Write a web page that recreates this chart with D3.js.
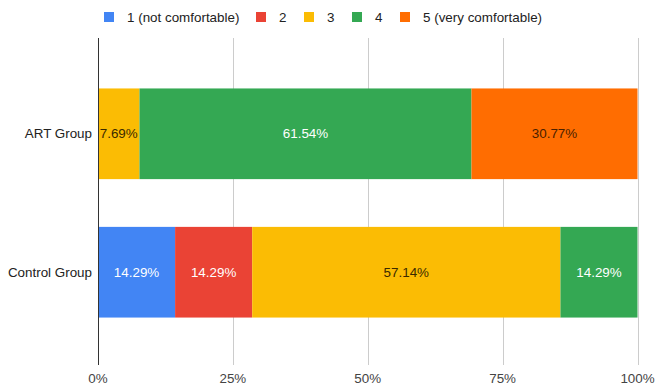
<!DOCTYPE html>
<html>
<head>
<meta charset="utf-8">
<script src="https://cdn.jsdelivr.net/npm/d3@7"></script>
<style>
  html, body { margin: 0; padding: 0; background: #fff; }
  svg { display: block; font-family: Arial, "Liberation Sans", sans-serif; }
</style>
</head>
<body>
<svg id="chart" width="655" height="387"></svg>
<script>
// Comfort ratings per group, as percentage shares
const groups = ["ART Group", "Control Group"];
const ratings = ["1 (not comfortable)", "2", "3", "4", "5 (very comfortable)"];
const colors = ["#4285F4", "#EA4335", "#FBBC04", "#34A853", "#FF6D01"];
const artShares = [0, 0, 7.69, 61.54, 30.77];
const controlShares = [14.29, 14.29, 57.14, 14.29, 0];
const tickValues = [0, 25, 50, 75, 100];
// label text colour on each fill
const labelColors = ["#ffffff", "#ffffff", "#3a2a00", "#ffffff", "#4a2000"];

const rows = [artShares, controlShares];

const svg = d3.select("#chart");
const FS = 13.4;

const x = d3.scaleLinear().domain([0, 100]).range([98, 637.5]);
const y = d3.scaleBand().domain(groups).range([40, 366]).paddingInner(0.345).paddingOuter(0.35);

// gridlines
svg.append("g")
  .selectAll("line")
  .data(tickValues.slice(1))
  .join("line")
  .attr("x1", d => Math.round(x(d)) + 0.5)
  .attr("x2", d => Math.round(x(d)) + 0.5)
  .attr("y1", 38)
  .attr("y2", 365)
  .attr("stroke", "#cccccc")
  .attr("stroke-width", 1);

// stacked bars
const stacked = groups.map((g, gi) => {
  let acc = 0;
  return rows[gi].map((v, ri) => {
    const seg = { group: g, idx: ri, v, x0: acc, x1: acc + v };
    acc += v;
    return seg;
  });
});

const barG = svg.append("g");
stacked.forEach(segs => {
  barG.selectAll(null)
    .data(segs.filter(s => s.v > 0))
    .join("rect")
    .attr("x", s => x(s.x0))
    .attr("width", s => x(Math.min(s.x1, 100)) - x(s.x0))
    .attr("y", s => y(s.group))
    .attr("height", y.bandwidth())
    .attr("fill", s => colors[s.idx]);

  barG.selectAll(null)
    .data(segs.filter(s => s.v > 0))
    .join("text")
    .attr("x", s => (x(s.x0) + x(Math.min(s.x1, 100))) / 2)
    .attr("y", s => y(s.group) + y.bandwidth() / 2)
    .attr("dy", "0.35em")
    .attr("text-anchor", "middle")
    .attr("font-size", FS)
    .attr("fill", s => labelColors[s.idx])
    .text(s => s.v.toFixed(2) + "%");
});

// zero baseline
svg.append("line")
  .attr("x1", Math.round(x(0)) + 0.5)
  .attr("x2", Math.round(x(0)) + 0.5)
  .attr("y1", 38)
  .attr("y2", 365)
  .attr("stroke", "#333333")
  .attr("stroke-width", 1);

// x axis tick labels
svg.append("g")
  .selectAll("text")
  .data(tickValues)
  .join("text")
  .attr("x", d => x(d))
  .attr("y", 378)
  .attr("dy", "0.35em")
  .attr("text-anchor", "middle")
  .attr("font-size", FS)
  .attr("fill", "#444444")
  .text(d => d + "%");

// y category labels
svg.append("g")
  .selectAll("text")
  .data(groups)
  .join("text")
  .attr("x", 92)
  .attr("y", d => y(d) + y.bandwidth() / 2)
  .attr("dy", "0.35em")
  .attr("text-anchor", "end")
  .attr("font-size", FS)
  .attr("fill", "#222222")
  .text(d => d);

// legend
const legendX = [104, 256, 304, 352, 400];
const legend = svg.append("g");
ratings.forEach((r, i) => {
  legend.append("rect")
    .attr("x", legendX[i])
    .attr("y", 12)
    .attr("width", 10)
    .attr("height", 10)
    .attr("fill", colors[i]);
  legend.append("text")
    .attr("x", legendX[i] + 23)
    .attr("y", 17)
    .attr("dy", "0.35em")
    .attr("font-size", FS)
    .attr("fill", "#222222")
    .text(r);
});
</script>
</body>
</html>
